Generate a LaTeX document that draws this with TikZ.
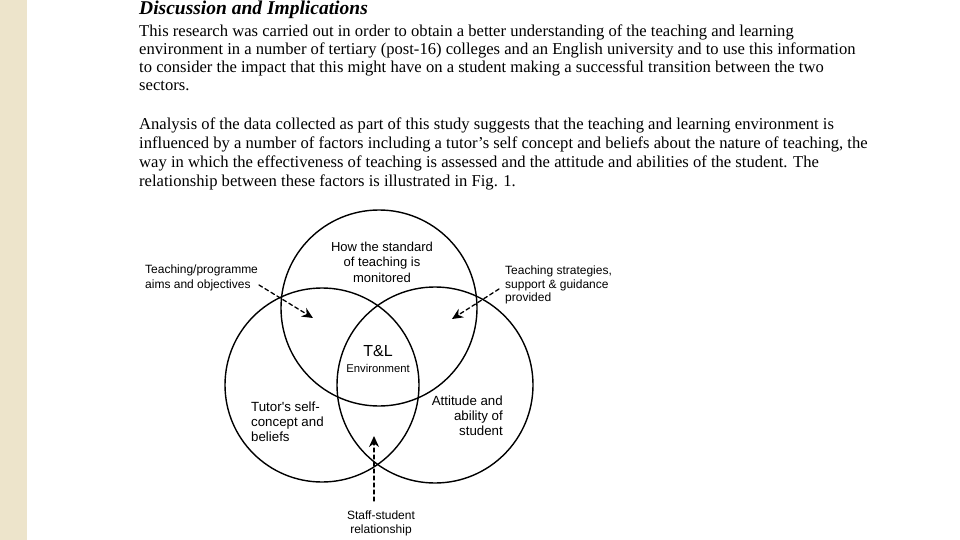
\documentclass[tikz,border=0pt]{standalone}
\usepackage{fontspec}
\usetikzlibrary{arrows.meta}
\setmainfont{Liberation Serif}
\newfontfamily\venntext{Liberation Sans}
\definecolor{canvas}{HTML}{EDE4CB}
\begin{document}
\begin{tikzpicture}[x=1pt,y=-1pt,>={Stealth[length=11pt,width=10pt]},line join=round,line cap=round,
		venn/.style={line width=1.4pt},
		body/.style={anchor=base west,inner sep=0pt,align=left,font=\fontsize{16.6}{18}\selectfont},
		lbl/.style={inner sep=0pt,font=\venntext\fontsize{12}{15}\selectfont},
		pointer/.style={->,line width=1.3pt,dash pattern=on 4pt off 3pt}]
	\useasboundingbox (0,0) rectangle (960,540);
	\fill[canvas] (0,0) rectangle (27,540);
	% heading and text
	\node[body,font=\bfseries\itshape\fontsize{19.5}{20}\selectfont] (title)at(139,15) {Discussion and Implications};
	\node[body] (para1)at(139,91) {This research was carried out in order to obtain a better understanding of the teaching and learning\\
		environment in a number of tertiary (post-16) colleges and an English university and to use this information\\
		to consider the impact that this might have on a student making a successful transition between the two\\
		sectors.};
	\node[body,font=\fontsize{16.6}{19}\selectfont] (para2)at(139,186) {Analysis of the data collected as part of this study suggests that the teaching and learning environment is\\
		influenced by a number of factors including a tutor's self concept and beliefs about the nature of teaching, the\\
		way in which the effectiveness of teaching is assessed and the attitude and abilities of the student. The\\
		relationship between these factors is illustrated in Fig. 1.};
	% circles
	\coordinate (T)at(379,308);
	\coordinate (L)at(322,385);
	\coordinate (R)at(435,385);
	\draw[venn] (T) circle (98pt);
	\draw[venn] (L) circle (97pt);
	\draw[venn] (R) circle (98pt);
	% texts
	\node[lbl,align=center,font=\venntext\fontsize{13}{15.5}\selectfont] (monitor)at(382,262) {How the standard\\of teaching is\\monitored};
	\node[lbl,align=center] (env)at(378,359) {\fontsize{16}{16}\selectfont T\&L\\[1pt]\fontsize{11.3}{12}\selectfont Environment};
	\node[lbl,align=left,anchor=west] (aims)at(145,278) {Teaching/programme\\aims and objectives};
	\node[lbl,align=left,anchor=west,font=\venntext\fontsize{12}{13.3}\selectfont] (strat)at(505,285) {Teaching strategies,\\support \& guidance\\provided};
	\node[lbl,align=left,anchor=west,font=\venntext\fontsize{13.3}{15}\selectfont] (tutor)at(251,422) {Tutor's self-\\concept and\\beliefs};
	\node[lbl,align=right,anchor=east,font=\venntext\fontsize{13.3}{15}\selectfont] (att)at(503,416) {Attitude and\\ability of\\student};
	\node[lbl,align=center,font=\venntext\fontsize{12}{14}\selectfont] (staff)at(381,523) {Staff-student\\relationship};
	% arrows
	\coordinate (a1)at(259,285);
	\coordinate (a2)at(313,318);
	\coordinate (b1)at(499,289);
	\coordinate (b2)at(452,319);
	\coordinate (c1)at(374,501);
	\coordinate (c2)at(374,436);
	\draw[pointer] (a1)--(a2);
	\draw[pointer] (b1)--(b2);
	\draw[pointer] (c1)--(c2);
\end{tikzpicture}
\end{document}
